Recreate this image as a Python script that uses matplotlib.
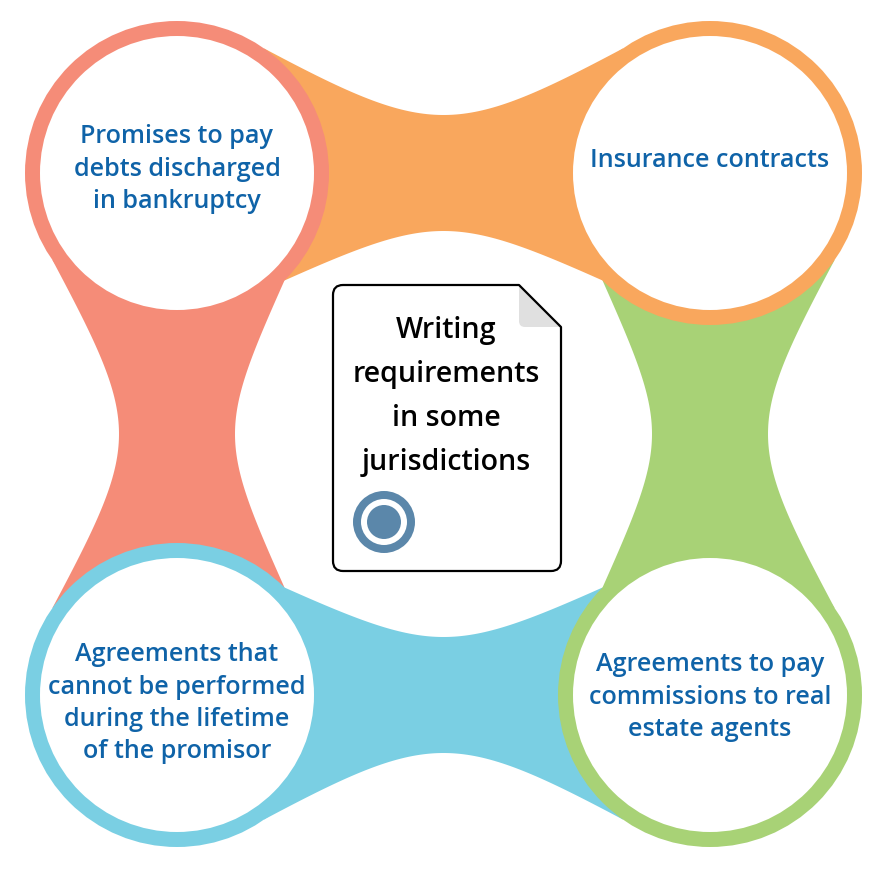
import numpy as np
import matplotlib.pyplot as plt
from matplotlib.patches import Circle, PathPatch, Polygon
from matplotlib.path import Path

# Data: the four items around the centre and their colours
labels = [
    "Promises to pay\ndebts discharged\nin bankruptcy",
    "Insurance contracts",
    "Agreements that\ncannot be performed\nduring the lifetime\nof the promisor",
    "Agreements to pay\ncommissions to real\nestate agents",
]
ring_colors = ["#F58C78", "#F9A75D", "#7ACFE3", "#A8D276"]
# bands join item i to item j, coloured like the ring they come from
bands = [(0, 1, "#F9A75D"), (0, 2, "#F58C78"), (1, 3, "#A8D276"), (2, 3, "#7ACFE3")]
center_title = ["Writing", "requirements", "in some", "jurisdictions"]

# Layout (image pixel coordinates)
W, H = 891, 874
centers = np.array([(177, 173), (710, 173), (177, 695), (710, 695)], float)
label_dy = [-30, -6, -34, -24]  # first baseline relative to circle centre
R_OUT, R_IN = 152, 137
HALF_W = 58
MID = centers.mean(axis=0)
TEXT_BLUE = "#0F63A8"
ICON = "#5B87AA"

plt.rcParams["font.family"] = ["Open Sans", "DejaVu Sans"]

fig = plt.figure(figsize=(W / 100, H / 100), dpi=100)
ax = fig.add_axes([0, 0, 1, 1])
ax.set_xlim(0, W)
ax.set_ylim(H, 0)
ax.axis("off")


def band_edge(a, b, side, phi, beta, n=80):
    d = b - a
    u = d / np.linalg.norm(d)
    nrm = np.array([-u[1], u[0]])
    phi, beta = np.radians(phi), np.radians(beta)
    p0 = a + R_OUT * (np.cos(phi) * u + side * np.sin(phi) * nrm)
    p3 = b + R_OUT * (-np.cos(phi) * u + side * np.sin(phi) * nrm)
    hand = (R_OUT * np.sin(phi) - HALF_W) / (0.75 * np.sin(beta))
    p1 = p0 + hand * (np.cos(beta) * u - side * np.sin(beta) * nrm)
    p2 = p3 + hand * (-np.cos(beta) * u - side * np.sin(beta) * nrm)
    t = np.linspace(0, 1, n)[:, None]
    return ((1 - t) ** 3 * p0 + 3 * (1 - t) ** 2 * t * p1
            + 3 * (1 - t) * t ** 2 * p2 + t ** 3 * p3)


# Connecting bands
for i, j, col in bands:
    a, b = centers[i], centers[j]
    u = (b - a) / np.linalg.norm(b - a)
    nrm = np.array([-u[1], u[0]])
    outer = np.sign(np.dot(nrm, (a + b) / 2 - MID))
    e_out = band_edge(a, b, outer, 55, 28)
    e_in = band_edge(a, b, -outer, 45, 24)
    pts = np.vstack([e_out, [b], e_in[::-1], [a]])
    ax.add_patch(Polygon(pts, closed=True, facecolor=col, edgecolor="none", zorder=1))

# Rings and labels
for k, (c, col) in enumerate(zip(centers, ring_colors)):
    ax.add_patch(Circle(c, R_OUT, facecolor=col, edgecolor="none", zorder=2))
    ax.add_patch(Circle(c, R_IN, facecolor="white", edgecolor="none", zorder=3))
    for m, line in enumerate(labels[k].split("\n")):
        ax.text(c[0], c[1] + label_dy[k] + m * 32.5, line, ha="center", va="baseline",
                fontsize=18.1, fontweight="semibold", color=TEXT_BLUE, zorder=7)

# Central document shape
x0, y0, x1, y1, fold, r = 333, 285, 561, 571, 42, 10
verts = [(x0 + r, y0), (x1 - fold, y0), (x1, y0 + fold), (x1, y1 - r), (x1, y1),
         (x1 - r, y1), (x0 + r, y1), (x0, y1), (x0, y1 - r), (x0, y0 + r),
         (x0, y0), (x0 + r, y0), (x0 + r, y0)]
codes = [Path.MOVETO, Path.LINETO, Path.LINETO, Path.LINETO, Path.CURVE3, Path.CURVE3,
         Path.LINETO, Path.CURVE3, Path.CURVE3, Path.LINETO, Path.CURVE3, Path.CURVE3,
         Path.CLOSEPOLY]
doc = Path(verts, codes)
ax.add_patch(PathPatch(doc, facecolor="white", edgecolor="none", zorder=4))
fr = 6
fold_path = Path(
    [(x1 - fold, y0), (x1, y0 + fold), (x1 - fold + fr, y0 + fold), (x1 - fold, y0 + fold),
     (x1 - fold, y0 + fold - fr), (x1 - fold, y0)],
    [Path.MOVETO, Path.LINETO, Path.LINETO, Path.CURVE3, Path.CURVE3, Path.CLOSEPOLY])
ax.add_patch(PathPatch(fold_path, facecolor="#E0E0E0", edgecolor="none", zorder=5))
ax.add_patch(PathPatch(doc, facecolor="none", edgecolor="black", lw=1.6,
                       joinstyle="round", zorder=6))

for m, line in enumerate(center_title):
    ax.text(446, 338 + m * 44, line, ha="center", va="baseline", fontsize=20.6,
            fontweight="semibold", color="black", zorder=7)

# Target icon in the document
ax.add_patch(Circle((384, 522), 31, facecolor=ICON, edgecolor="none", zorder=7))
ax.add_patch(Circle((384, 522), 23, facecolor="white", edgecolor="none", zorder=7))
ax.add_patch(Circle((384, 522), 17, facecolor=ICON, edgecolor="none", zorder=7))

fig.savefig("out.png", dpi=100, facecolor="white")
